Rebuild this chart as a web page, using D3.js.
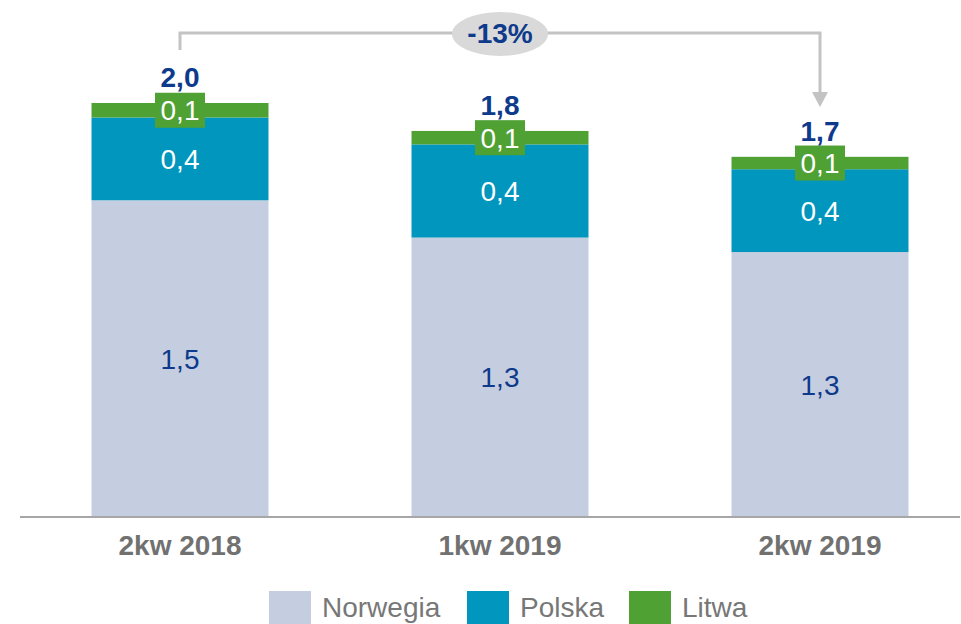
<!DOCTYPE html>
<html>
    <head>
        <title>wolumen</title>
        <script src="https://d3js.org/d3.v7.min.js"></script>
        <style>
            body { margin: 0; background: #fff; }
            text { font-family: "Liberation Sans", Arial, sans-serif; }
        </style>
    </head>
    <body>
        <svg id="chart" width="961" height="624"></svg>
    </body>
    <script>
const categories = ["2kw 2018", "1kw 2019", "2kw 2019"];
const series = ["Norwegia", "Polska", "Litwa"];
const norwegia = [1.53, 1.35, 1.28];
const polska = [0.40, 0.45, 0.40];
const litwa = [0.07, 0.065, 0.06];
const segmentLabels = [["1,5", "0,4", "0,1"], ["1,3", "0,4", "0,1"], ["1,3", "0,4", "0,1"]];
const totalLabels = ["2,0", "1,8", "1,7"];
const changeLabel = "-13%";

const colors = ["#c4cee0", "#0096bd", "#50a133"];
const labelColors = ["#0e3a8c", "#ffffff", "#ffffff"];

const svg = d3.select("#chart");

const rows = categories.map((c, i) => ({cat: c, Norwegia: norwegia[i], Polska: polska[i], Litwa: litwa[i]}));
const stacked = d3.stack().keys(series)(rows);

const x = d3.scaleBand().domain(categories).range([20, 980]).paddingInner(0.447).paddingOuter(0.2235);
const y = d3.scaleLinear().domain([0, 2]).range([517, 103]);

// bars
stacked.forEach((layer, si) => {
    svg.append("g").selectAll("rect").data(layer).join("rect")
        .attr("x", d => x(d.data.cat))
        .attr("width", x.bandwidth())
        .attr("y", d => y(d[1]))
        .attr("height", d => y(d[0]) - y(d[1]))
        .attr("fill", colors[si]);
});

// segment labels
stacked.forEach((layer, si) => {
    const g = svg.append("g");
    layer.forEach((d, i) => {
        const cx = x(d.data.cat) + x.bandwidth() / 2;
        const cy = (y(d[0]) + y(d[1])) / 2;
        if (si === 2) {
            g.append("rect").attr("x", cx - 25).attr("y", cy - 17.5).attr("width", 50).attr("height", 35).attr("fill", colors[2]);
        }
        g.append("text").attr("x", cx).attr("y", cy + 10)
            .attr("text-anchor", "middle").attr("font-size", 28)
            .attr("fill", labelColors[si]).text(segmentLabels[i][si]);
    });
});

// totals
const topLayer = stacked[stacked.length - 1];
svg.append("g").selectAll("text").data(topLayer).join("text")
    .attr("x", d => x(d.data.cat) + x.bandwidth() / 2)
    .attr("y", d => y(d[1]) - 16)
    .attr("text-anchor", "middle").attr("font-size", 28).attr("font-weight", "bold")
    .attr("fill", "#0e3a8c")
    .text((d, i) => totalLabels[i]);

// axis
const axis = svg.append("g").attr("transform", "translate(0,517)")
    .call(d3.axisBottom(x).tickSize(0).tickPadding(0));
axis.select(".domain").attr("stroke", "#a6a6a6").attr("stroke-width", 2).attr("d", "M20,0H960");
axis.selectAll(".tick text")
    .attr("y", 38).attr("dy", null)
    .attr("font-size", 28).attr("font-weight", "bold")
    .attr("font-family", "Liberation Sans, Arial, sans-serif")
    .attr("fill", "#717171");

// change connector
const x0 = x(categories[0]) + x.bandwidth() / 2;
const x1 = x(categories[2]) + x.bandwidth() / 2;
svg.append("path")
    .attr("d", `M${x0},50V33H${x1}V93`)
    .attr("fill", "none").attr("stroke", "#c3c3c3").attr("stroke-width", 3);
svg.append("path")
    .attr("d", `M${x1 - 8},92L${x1 + 8},92L${x1},107Z`)
    .attr("fill", "#c3c3c3");
svg.append("ellipse").attr("cx", (x0 + x1) / 2).attr("cy", 34).attr("rx", 48).attr("ry", 22).attr("fill", "#d9d9d9");
svg.append("text").attr("x", (x0 + x1) / 2).attr("y", 43)
    .attr("text-anchor", "middle").attr("font-size", 28).attr("font-weight", "bold")
    .attr("fill", "#0e3a8c").text(changeLabel);

// legend
const legendX = [269, 467, 629];
const legend = svg.append("g");
series.forEach((s, i) => {
    legend.append("rect").attr("x", legendX[i]).attr("y", 591).attr("width", 42).attr("height", 33).attr("fill", colors[i]);
    legend.append("text").attr("x", legendX[i] + 53).attr("y", 617)
        .attr("font-size", 28).attr("fill", "#777777").text(s);
});
    </script>
</html>
